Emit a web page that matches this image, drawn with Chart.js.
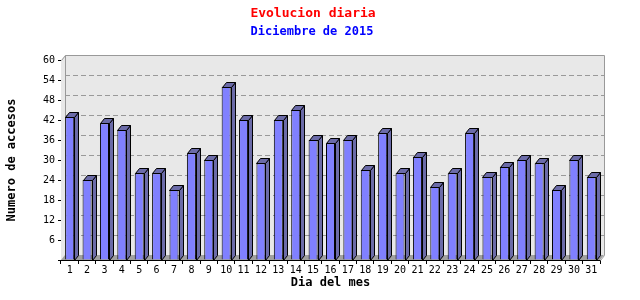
<!DOCTYPE html>
<html>
<head>
<meta charset="utf-8">
<script src="https://cdn.jsdelivr.net/npm/chart.js@4"></script>
<style>
  html, body { margin: 0; padding: 0; background: #fff; }
</style>
</head>
<body>
<canvas id="chart" width="640" height="300"></canvas>
<script>
const dias = ['1','2','3','4','5','6','7','8','9','10','11','12','13','14','15','16','17','18','19','20','21','22','23','24','25','26','27','28','29','30','31'];
const accesos = [43, 24, 41, 39, 26, 26, 21, 32, 30, 52, 42, 29, 42, 45, 36, 35, 36, 27, 38, 26, 31, 22, 26, 38, 25, 28, 30, 29, 21, 30, 25];
const yTicks = [6, 12, 18, 24, 30, 36, 42, 48, 54, 60];
const titulo = 'Evolucion diaria';
const subtitulo = 'Diciembre de 2015';

const DX = 4, DY = -5;   // profundidad del efecto 3D
const mono = 'DejaVu Sans Mono';

// titulos centrados como en el original
const titulos = {
  id: 'titulos',
  afterDraw(chart) {
    const { ctx } = chart;
    ctx.save();
    ctx.textAlign = 'center';
    ctx.textBaseline = 'middle';
    ctx.font = `bold 13px "${mono}"`;
    ctx.fillStyle = '#ff0000';
    ctx.fillText(titulo, 313, 14);
    ctx.font = `bold 12px "${mono}"`;
    ctx.fillStyle = '#0000ff';
    ctx.fillText(subtitulo, 312, 32);
    ctx.restore();
  }
};

// fondo, suelo, rejilla y caras laterales de las barras
const bars3d = {
  id: 'bars3d',
  beforeDatasetsDraw(chart) {
    const { ctx, chartArea: a, scales: { y } } = chart;
    ctx.save();
    // paredes
    ctx.fillStyle = '#e8e8e8';
    ctx.beginPath();
    ctx.moveTo(a.left, a.top);
    ctx.lineTo(a.left + DX, a.top + DY);
    ctx.lineTo(a.right + DX, a.top + DY);
    ctx.lineTo(a.right + DX, a.bottom + DY);
    ctx.lineTo(a.right, a.bottom);
    ctx.lineTo(a.left, a.bottom);
    ctx.closePath();
    ctx.fill();
    // rejilla discontinua en la pared del fondo
    ctx.strokeStyle = '#999';
    ctx.lineWidth = 1;
    ctx.setLineDash([5, 3]);
    yTicks.slice(0, -1).forEach(v => {
      const py = Math.round(y.getPixelForValue(v) + DY) + 0.5;
      ctx.beginPath();
      ctx.moveTo(a.left + DX, py);
      ctx.lineTo(a.right + DX, py);
      ctx.stroke();
    });
    ctx.setLineDash([]);
    // borde del panel
    ctx.beginPath();
    ctx.moveTo(a.left + 0.5, a.top + 0.5);
    ctx.lineTo(a.left + DX + 0.5, a.top + DY + 0.5);
    ctx.lineTo(a.right + DX + 0.5, a.top + DY + 0.5);
    ctx.lineTo(a.right + DX + 0.5, a.bottom + DY + 0.5);
    ctx.lineTo(a.right + 0.5, a.bottom + 0.5);
    ctx.moveTo(a.left + DX + 0.5, a.top + DY + 0.5);
    ctx.lineTo(a.left + DX + 0.5, a.bottom + DY + 0.5);
    ctx.stroke();
    // suelo
    ctx.fillStyle = '#a0a0a0';
    ctx.beginPath();
    ctx.moveTo(a.left, a.bottom);
    ctx.lineTo(a.left + DX, a.bottom + DY);
    ctx.lineTo(a.right + DX, a.bottom + DY);
    ctx.lineTo(a.right, a.bottom);
    ctx.closePath();
    ctx.fill();
    ctx.restore();
  },
  afterDatasetsDraw(chart) {
    const { ctx } = chart;
    ctx.save();
    ctx.strokeStyle = '#000';
    ctx.lineWidth = 1;
    chart.getDatasetMeta(0).data.forEach(bar => {
      const { x, y, base, width } = bar.getProps(['x', 'y', 'base', 'width'], true);
      const l = Math.round(x - width / 2) + 0.5;
      const r = Math.round(x + width / 2) + 0.5;
      const t = Math.round(y) + 0.5;
      const b = Math.round(base) + 0.5;
      ctx.fillStyle = '#6b6ba8';
      // lateral
      ctx.beginPath();
      ctx.moveTo(r, t);
      ctx.lineTo(r + DX, t + DY);
      ctx.lineTo(r + DX, b + DY);
      ctx.lineTo(r, b);
      ctx.closePath();
      ctx.fill();
      ctx.stroke();
      // tapa
      ctx.beginPath();
      ctx.moveTo(l, t);
      ctx.lineTo(l + DX, t + DY);
      ctx.lineTo(r + DX, t + DY);
      ctx.lineTo(r, t);
      ctx.closePath();
      ctx.fill();
      ctx.stroke();
    });
    ctx.restore();
  }
};

new Chart(document.getElementById('chart'), {
  type: 'bar',
  data: {
    labels: dias,
    datasets: [{
      data: accesos,
      backgroundColor: '#8080ff',
      borderColor: '#000',
      borderWidth: 1,
      categoryPercentage: 1,
      barPercentage: 0.52
    }]
  },
  options: {
    responsive: false,
    animation: false,
    layout: { padding: { left: 5, right: 40, top: 60, bottom: 10 } },
    plugins: {
      legend: { display: false },
      tooltip: { enabled: false }
    },
    scales: {
      x: {
        grid: { display: true, drawOnChartArea: false, drawTicks: true, tickLength: 4, color: '#000', offset: true },
        border: { display: true, color: '#000' },
        ticks: { color: '#000', font: { family: mono, size: 10 }, padding: 0, maxRotation: 0, autoSkip: false },
        title: { display: true, text: 'Dia del mes', color: '#000', font: { family: mono, size: 12, weight: 'bold' }, padding: 0 },
        afterFit(s) { s.height = 30; }
      },
      y: {
        min: 0,
        max: 60,
        grid: { display: true, drawOnChartArea: false, drawTicks: true, tickLength: 3, color: '#000' },
        border: { display: true, color: '#000' },
        ticks: {
          stepSize: 6,
          color: '#000',
          font: { family: mono, size: 10 },
          padding: 3,
          callback: v => (v === 0 ? '' : v)
        },
        title: { display: true, text: 'Numero de accesos', color: '#000', font: { family: mono, size: 12, weight: 'bold' }, padding: 0 },
        afterFit(s) { s.width = 56; }
      }
    }
  },
  plugins: [bars3d, titulos]
});
</script>
</body>
</html>
